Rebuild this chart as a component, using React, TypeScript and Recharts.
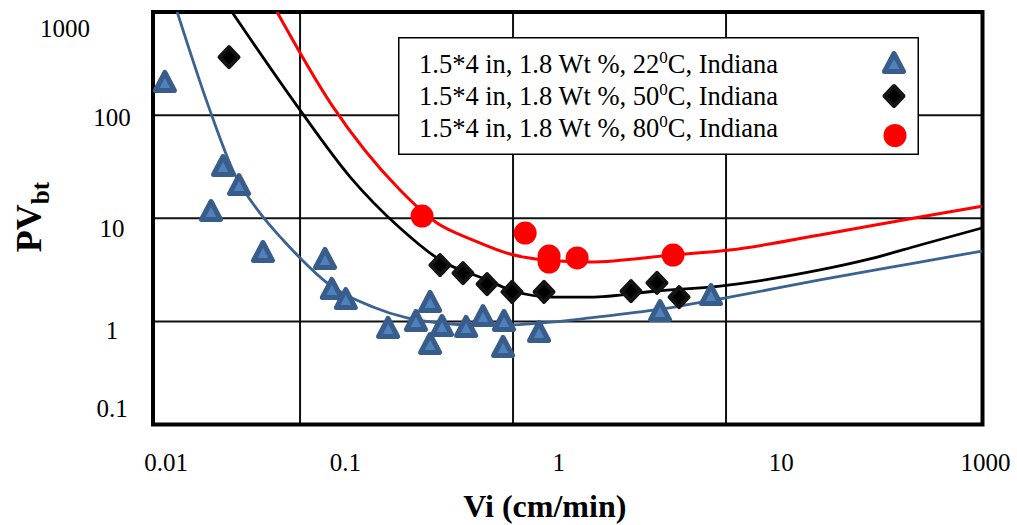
import React from 'react';
import {
  ComposedChart,
  Scatter,
  Line,
  XAxis,
  YAxis,
  CartesianGrid,
  Legend,
  ReferenceArea,
} from 'recharts';

type Pt = { vi: number; pv: number };

// Measured points (Vi in cm/min, PVbt)
const tests22: Pt[] = [
  { vi: 0.0232, pv: 205 }, { vi: 0.0382, pv: 11.5 }, { vi: 0.0435, pv: 31.4 },
  { vi: 0.0517, pv: 20.5 }, { vi: 0.067, pv: 4.6 }, { vi: 0.131, pv: 3.94 },
  { vi: 0.141, pv: 2.02 }, { vi: 0.164, pv: 1.61 }, { vi: 0.259, pv: 0.844 },
  { vi: 0.35, pv: 0.986 }, { vi: 0.408, pv: 1.51 }, { vi: 0.408, pv: 0.59 },
  { vi: 0.464, pv: 0.882 }, { vi: 0.602, pv: 0.863 }, { vi: 0.723, pv: 1.1 },
  { vi: 0.898, pv: 0.552 }, { vi: 0.907, pv: 0.986 }, { vi: 1.325, pv: 0.771 },
  { vi: 4.9, pv: 1.23 }, { vi: 8.5, pv: 1.76 },
];
const tests50: Pt[] = [
  { vi: 0.0464, pv: 366 }, { vi: 0.454, pv: 3.52 }, { vi: 0.582, pv: 2.94 },
  { vi: 0.755, pv: 2.3 }, { vi: 0.989, pv: 1.93 }, { vi: 1.398, pv: 1.93 },
  { vi: 3.58, pv: 1.97 }, { vi: 4.74, pv: 2.36 }, { vi: 6.02, pv: 1.72 },
];
const tests80: Pt[] = [
  { vi: 0.374, pv: 10.5 }, { vi: 1.14, pv: 7.19 }, { vi: 1.476, pv: 4.3 },
  { vi: 1.476, pv: 3.76 }, { vi: 2.0, pv: 4.12 }, { vi: 5.64, pv: 4.4 },
];

// Fitted model curves
const fit22: Pt[] = [
  { vi: 0.0265, pv: 1000 }, { vi: 0.037, pv: 125 }, { vi: 0.0495, pv: 26.3 },
  { vi: 0.0649, pv: 11.2 }, { vi: 0.0832, pv: 6.15 }, { vi: 0.1, pv: 4.12 },
  { vi: 0.134, pv: 2.36 }, { vi: 0.22, pv: 1.38 }, { vi: 0.318, pv: 1.08 },
  { vi: 0.454, pv: 0.964 }, { vi: 0.649, pv: 0.923 }, { vi: 0.937, pv: 0.923 },
  { vi: 1.34, pv: 0.964 }, { vi: 2.3, pv: 1.08 }, { vi: 4.64, pv: 1.29 },
  { vi: 10.4, pv: 1.72 }, { vi: 27.6, pv: 2.52 }, { vi: 81.5, pv: 3.76 },
  { vi: 159, pv: 4.81 },
];
const fit50: Pt[] = [
  { vi: 0.0479, pv: 1000 }, { vi: 0.0968, pv: 123 }, { vi: 0.172, pv: 25.1 },
  { vi: 0.2947, pv: 8.04 }, { vi: 0.454, pv: 3.94 }, { vi: 0.755, pv: 2.52 },
  { vi: 1.0, pv: 1.97 }, { vi: 1.54, pv: 1.72 }, { vi: 2.3, pv: 1.72 },
  { vi: 4.74, pv: 1.97 }, { vi: 9.37, pv: 2.2 }, { vi: 27.6, pv: 3.15 },
  { vi: 47.4, pv: 4.03 }, { vi: 81.5, pv: 5.5 }, { vi: 159, pv: 8.04 },
];
const fit80: Pt[] = [
  { vi: 0.078, pv: 1000 }, { vi: 0.141, pv: 125 }, { vi: 0.2947, pv: 18.8 },
  { vi: 0.4396, pv: 8.99 }, { vi: 0.649, pv: 6.15 }, { vi: 0.968, pv: 4.5 },
  { vi: 1.413, pv: 3.94 }, { vi: 2.3, pv: 3.76 }, { vi: 5.64, pv: 4.4 },
  { vi: 10.4, pv: 4.92 }, { vi: 27.6, pv: 6.88 }, { vi: 81.5, pv: 10.3 },
  { vi: 159, pv: 13.1 },
];

const temperatures = [22, 50, 80];

const X_DATA_DOMAIN = [0.0204, 160];
const X_GRID_TICKS = [0.1, 1, 10];
const X_LABEL_DOMAIN = [0.01, 100];
const X_LABEL_TICKS = [0.01, 0.1, 1, 10, 100];
const X_LABEL_TEXT = ['0.01', '0.1', '1', '10', '1000'];
const Y_DOMAIN = [0.1, 1000];
const Y_TICKS = [0.1, 1, 10, 100, 1000];
const Y_LABEL_TEXT = ['0.1', '1', '10', '100', '1000'];
const labelAxisAnchors = X_LABEL_DOMAIN.map((vi) => ({ vi }));

const FONT = "'Liberation Serif', 'Times New Roman', serif";
const BLUE_FILL = '#4F81BD';
const BLUE_EDGE = '#385D8A';
const BLUE_LINE = '#3B6391';
const RED = '#FF0000';

// label nudges (style only)
const xLabelDx = [13, -15, -9, 6, 3];
const yLabelShift: [number, number][] = [[0, -16.5], [0, 8.6], [0, 9.8], [0, 1.9], [-47, 16]];

const TriMark = (p: any) => {
  const { cx, cy } = p;
  if (cx == null || cy == null) return <g />;
  return (
    <path
      d={`M${cx},${cy - 10.5} L${cx + 9.5},${cy + 7.5} L${cx - 9.5},${cy + 7.5} Z`}
      fill={BLUE_FILL}
      stroke={BLUE_EDGE}
      strokeWidth={5}
      strokeLinejoin="round"
    />
  );
};
const DiaMark = (p: any) => {
  const { cx, cy } = p;
  if (cx == null || cy == null) return <g />;
  return (
    <path
      d={`M${cx},${cy - 10} L${cx + 9.5},${cy} L${cx},${cy + 10} L${cx - 9.5},${cy} Z`}
      fill="#000"
      stroke="#141414"
      strokeWidth={4}
      strokeLinejoin="round"
    />
  );
};
const CirMark = (p: any) => {
  const { cx, cy } = p;
  if (cx == null || cy == null) return <g />;
  return <circle cx={cx} cy={cy} r={11.5} fill={RED} />;
};

const XTick = (props: any) => {
  const { x, y, payload } = props;
  const i = X_LABEL_TICKS.indexOf(payload.value);
  if (i < 0) return <g />;
  return (
    <text x={x + xLabelDx[i]} y={y + 28.5} dy="0.71em" textAnchor="middle" fontFamily={FONT} fontSize={25} fill="#000">
      {X_LABEL_TEXT[i]}
    </text>
  );
};

const YTick = (props: any) => {
  const { x, y, payload } = props;
  const i = Y_TICKS.indexOf(payload.value);
  if (i < 0) return <g />;
  const [dx, dy] = yLabelShift[i];
  return (
    <text x={x - 41 + dx} y={y + dy} dy="0.355em" textAnchor="middle" fontFamily={FONT} fontSize={25} fill="#000">
      {Y_LABEL_TEXT[i]}
    </text>
  );
};

const YTitle = () => (
  <text
    x={41}
    y={217}
    transform="rotate(-90 41 217)"
    textAnchor="middle"
    fontFamily={FONT}
    fontWeight="bold"
    fontSize={36}
    fill="#000"
  >
    PV<tspan fontSize={25} dy={8}>bt</tspan>
  </text>
);

const rowBaselines = [36.4, 68, 99.5];
const markCenters: [number, number][] = [[496, 27], [496, 59], [497, 98.5]];
const legendMarks = [TriMark, DiaMark, CirMark];

const LegendBox = () => (
  <svg width={522} height={119} style={{ display: 'block' }}>
    <rect x={0.75} y={0.75} width={519.5} height={116.5} fill="#fff" stroke="#000" strokeWidth={1.5} />
    {temperatures.map((t, i) => (
      <text key={t} x={21} y={rowBaselines[i]} fontFamily={FONT} fontSize={26.5} fill="#000">
        {`1.5*4 in, 1.8 Wt %, ${t}`}
        <tspan dy={-10} fontSize={17}>0</tspan>
        <tspan dy={10}>C, Indiana</tspan>
      </text>
    ))}
    {legendMarks.map((M, i) => (
      <M key={i} cx={markCenters[i][0]} cy={markCenters[i][1]} />
    ))}
  </svg>
);

export default function App() {
  return (
    <div style={{ position: 'absolute', left: 0, top: 0, background: '#fff' }}>
      <ComposedChart
        width={1017}
        height={525}
        data={labelAxisAnchors}
        margin={{ top: 12, right: 34.5, left: 0, bottom: 0 }}
        style={{ fontFamily: FONT }}
      >
        <CartesianGrid stroke="#111" strokeWidth={2} />
        <XAxis
          xAxisId={0}
          dataKey="vi"
          type="number"
          scale="log"
          orientation="top"
          height={0}
          domain={X_DATA_DOMAIN}
          ticks={X_GRID_TICKS}
          allowDataOverflow
          hide
        />
        <XAxis
          xAxisId="lab"
          dataKey="vi"
          type="number"
          scale="log"
          domain={X_LABEL_DOMAIN}
          ticks={X_LABEL_TICKS}
          allowDataOverflow
          interval={0}
          height={100.5}
          tickSize={0}
          tickMargin={0}
          tickLine={false}
          axisLine={false}
          tick={<XTick />}
          label={{
            value: 'Vi (cm/min)',
            position: 'insideBottom',
            offset: 8,
            dx: -23,
            style: { fontFamily: FONT, fontWeight: 'bold', fontSize: 32, fill: '#000' },
          }}
        />
        <YAxis
          dataKey="pv"
          type="number"
          scale="log"
          domain={Y_DOMAIN}
          ticks={Y_TICKS}
          allowDataOverflow
          interval={0}
          width={153}
          tickSize={0}
          tickMargin={0}
          tickLine={false}
          axisLine={false}
          tick={<YTick />}
          label={<YTitle />}
        />
        <ReferenceArea
          x1={X_DATA_DOMAIN[0]}
          x2={X_DATA_DOMAIN[1]}
          y1={Y_DOMAIN[0]}
          y2={Y_DOMAIN[1]}
          fill="none"
          stroke="#000"
          strokeWidth={4}
        />
        <Scatter data={tests22} shape={TriMark} isAnimationActive={false} />
        <Scatter data={tests50} shape={DiaMark} isAnimationActive={false} />
        <Scatter data={tests80} shape={CirMark} isAnimationActive={false} />
        <Line data={fit22} dataKey="pv" type="monotone" stroke={BLUE_LINE} strokeWidth={2.8} dot={false} activeDot={false} isAnimationActive={false} />
        <Line data={fit50} dataKey="pv" type="monotone" stroke="#000" strokeWidth={2.8} dot={false} activeDot={false} isAnimationActive={false} />
        <Line data={fit80} dataKey="pv" type="monotone" stroke={RED} strokeWidth={3} dot={false} activeDot={false} isAnimationActive={false} />
        <Legend
          layout="horizontal"
          verticalAlign="middle"
          align="center"
          content={() => <LegendBox />}
          wrapperStyle={{ position: 'absolute', left: 398, top: 37, width: 522, height: 119 }}
        />
      </ComposedChart>
    </div>
  );
}
